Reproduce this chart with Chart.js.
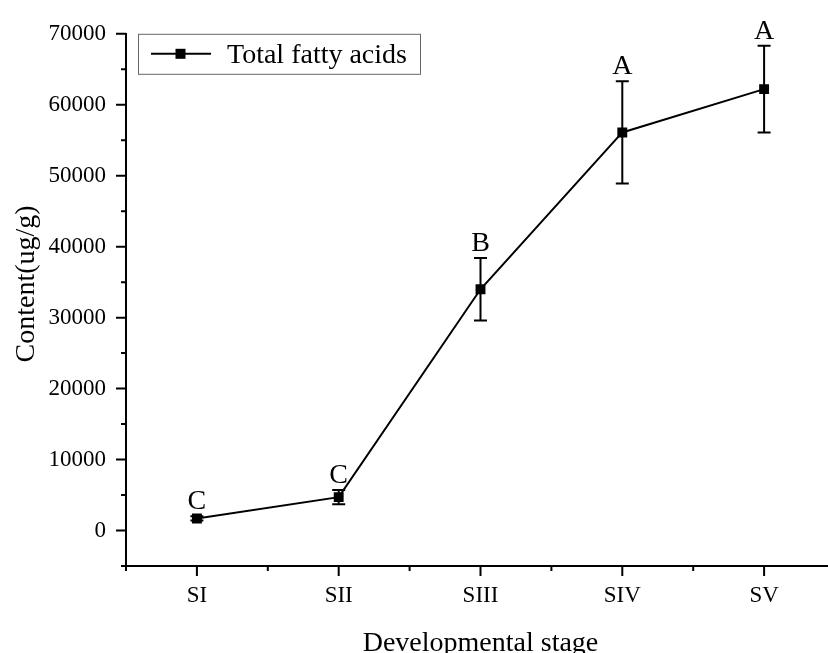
<!DOCTYPE html>
<html>
<head>
<meta charset="utf-8">
<script src="https://cdn.jsdelivr.net/npm/chart.js@4.4.1/dist/chart.umd.min.js"></script>
<style>
   html, body { margin: 0; padding: 0; overflow: hidden; background: #fff; }
   #wrap { width: 842px; height: 660px; }
</style>
</head>
<body>
<div id="wrap"><canvas id="chart" width="842" height="660"></canvas></div>
<script>
const stages = ['SI', 'SII', 'SIII', 'SIV', 'SV'];
const contents = [1700, 4700, 34000, 56100, 62200];
const errors = [300, 1000, 4400, 7200, 6100];
const letters = ['C', 'C', 'B', 'A', 'A'];
const yTicks = [0, 10000, 20000, 30000, 40000, 50000, 60000, 70000];
const seriesName = 'Total fatty acids';

const serif = "'Liberation Serif', 'Times New Roman', serif";

// Origin style ticks, error bars, letters and legend
const extras = {
   id: 'extras',
   beforeDatasetsDraw(chart) {
      let ctx = chart.ctx;
      let xs = chart.scales.x;
      let ys = chart.scales.y;
      ctx.save();
      ctx.strokeStyle = '#000';
      ctx.lineWidth = 2;
      contents.forEach((v, i) => {
         let x = xs.getPixelForValue(i + 1);
         let top = ys.getPixelForValue(v + errors[i]);
         let bot = ys.getPixelForValue(v - errors[i]);
         ctx.beginPath();
         ctx.moveTo(x, top); ctx.lineTo(x, bot);
         ctx.moveTo(x - 6.5, top); ctx.lineTo(x + 6.5, top);
         ctx.moveTo(x - 6.5, bot); ctx.lineTo(x + 6.5, bot);
         ctx.stroke();
      });
      ctx.restore();
   },
   afterDraw(chart) {
      let ctx = chart.ctx;
      let area = chart.chartArea;
      let xs = chart.scales.x;
      let ys = chart.scales.y;
      ctx.save();
      ctx.strokeStyle = '#000';
      ctx.fillStyle = '#000';
      ctx.lineWidth = 2;

      // x ticks (major at stages, minor between)
      ctx.beginPath();
      for (let v = 0.5; v <= 5.5; v += 0.5) {
         let x = xs.getPixelForValue(v);
         let len = Number.isInteger(v) ? 10 : 5;
         ctx.moveTo(x, area.bottom); ctx.lineTo(x, area.bottom + len);
      }
      // y ticks
      for (let v = -5000; v <= 70000; v += 5000) {
         let y = ys.getPixelForValue(v);
         let len = v % 10000 == 0 ? 10 : 5;
         ctx.moveTo(area.left, y); ctx.lineTo(area.left - len, y);
      }
      ctx.stroke();

      // significance letters
      ctx.font = `28px ${serif}`;
      ctx.textAlign = 'center';
      ctx.textBaseline = 'alphabetic';
      letters.forEach((t, i) => {
         let x = xs.getPixelForValue(i + 1);
         let y = ys.getPixelForValue(contents[i] + errors[i]) - 7;
         ctx.fillText(t, x, y);
      });

      // y axis title
      ctx.save();
      ctx.translate(27, (area.top + area.bottom) / 2 - 16);
      ctx.rotate(-Math.PI / 2);
      ctx.textBaseline = 'middle';
      ctx.fillText('Content(ug/g)', 0, 0);
      ctx.restore();

      // legend box
      let lx = area.left + 12;
      let ly = area.top;
      ctx.strokeStyle = '#666';
      ctx.lineWidth = 1;
      ctx.strokeRect(lx + 0.5, ly + 0.5, 282, 40);
      ctx.strokeStyle = '#000';
      ctx.lineWidth = 2;
      ctx.beginPath();
      ctx.moveTo(lx + 13, ly + 20); ctx.lineTo(lx + 73, ly + 20);
      ctx.stroke();
      ctx.fillRect(lx + 37.5, ly + 15, 10, 10);
      ctx.textAlign = 'left';
      ctx.fillText(seriesName, lx + 89, ly + 29.5);
      ctx.restore();
   }
};

let ctx = document.getElementById('chart').getContext('2d');

new Chart(ctx, {
   type: 'line',
   data: {
      datasets: [{
         label: seriesName,
         data: contents.map((v, i) => ({x: i + 1, y: v})),
         borderColor: '#000',
         backgroundColor: '#000',
         borderWidth: 2,
         pointStyle: 'rect',
         pointRadius: 7,
         pointBorderWidth: 0,
         pointBackgroundColor: '#000',
         tension: 0
      }]
   },
   options: {
      responsive: false,
      animation: false,
      layout: { padding: { top: 29, right: 0, bottom: 0, left: 0 } },
      plugins: {
         legend: { display: false },
         tooltip: { enabled: false }
      },
      scales: {
         x: {
            type: 'linear',
            min: 0.5,
            max: 5.5,
            afterBuildTicks: (scale) => { scale.ticks = stages.map((s, i) => ({value: i + 1})); },
            afterFit: (scale) => { scale.height = 94; },
            grid: { display: false, drawTicks: false },
            border: { display: true, color: '#000', width: 2 },
            ticks: {
               padding: 16,
               color: '#000',
               font: { family: serif, size: 23 },
               callback: (v) => stages[Math.round(v) - 1]
            },
            title: {
               display: true,
               text: 'Developmental stage',
               color: '#000',
               font: { family: serif, size: 28 },
               padding: { top: 15, bottom: 0 }
            }
         },
         y: {
            min: -5000,
            max: 70000,
            afterBuildTicks: (scale) => { scale.ticks = yTicks.map(v => ({value: v})); },
            afterFit: (scale) => { scale.width = 126; },
            grid: { display: false, drawTicks: false },
            border: { display: true, color: '#000', width: 2 },
            ticks: {
               padding: 20,
               color: '#000',
               font: { family: serif, size: 23 },
               callback: (v) => String(v)
            }
         }
      }
   },
   plugins: [extras]
});
</script>
</body>
</html>
